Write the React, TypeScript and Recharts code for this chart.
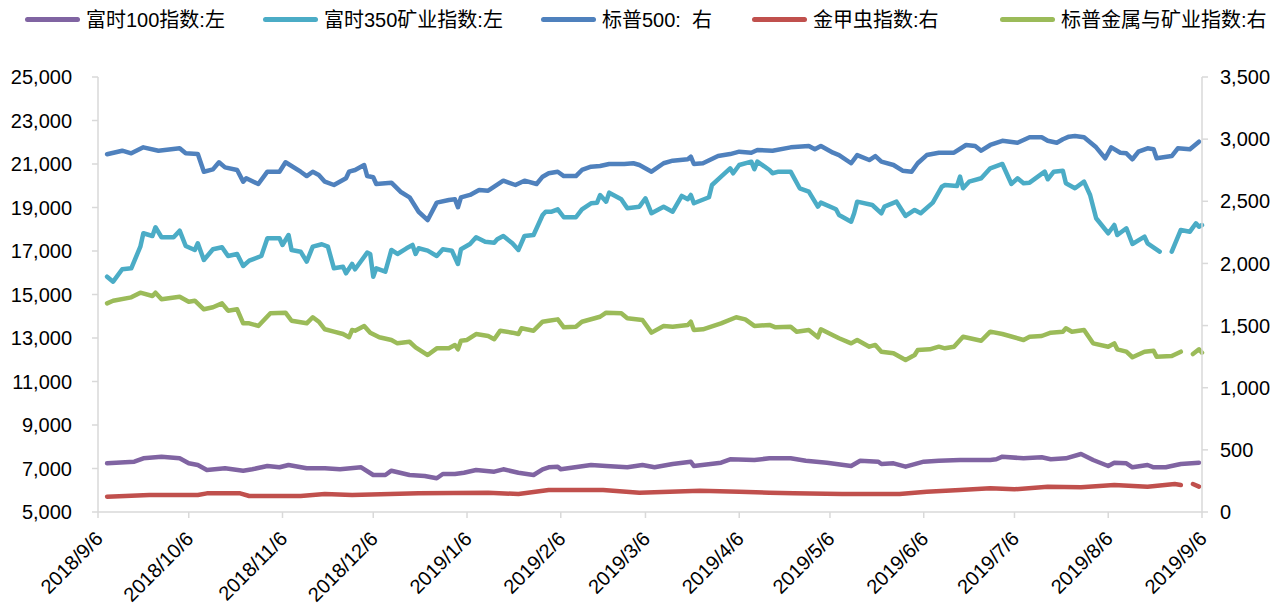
import { Line, LineChart, XAxis, YAxis } from "recharts";

const FONT = '"Liberation Sans", Arial, "Noto Sans CJK SC", sans-serif';
const AXIS_GREY = "#d9d9d9";

// x axis: days since 2018/9/6
const tickDays = [0, 30, 61, 91, 122, 153, 181, 212, 242, 273, 303, 334, 365];
const tickLabels = [
  "2018/9/6", "2018/10/6", "2018/11/6", "2018/12/6", "2019/1/6", "2019/2/6",
  "2019/3/6", "2019/4/6", "2019/5/6", "2019/6/6", "2019/7/6", "2019/8/6", "2019/9/6",
];
const leftTicks = [5000, 7000, 9000, 11000, 13000, 15000, 17000, 19000, 21000, 23000, 25000];
const rightTicks = [0, 500, 1000, 1500, 2000, 2500, 3000, 3500];

// 富时100指数 (left)
const ftse100Days = [3, 12, 15, 21, 27, 30, 33, 36, 42, 48, 51, 56, 60, 63, 69, 75, 80, 87, 91, 95, 97, 103, 108, 112, 114, 118, 121, 125, 131, 134, 139, 144, 147, 149, 152, 153, 163, 168, 175, 180, 184, 190, 196, 197, 206, 209, 217, 222, 229, 234, 241, 249, 252, 258, 259, 263, 267, 273, 278, 285, 295, 297, 299, 306, 312, 315, 320, 325, 329, 334, 336, 340, 342, 347, 349, 353, 358, 364];
const ftse100 = [7239, 7313, 7469, 7543, 7469, 7239, 7161, 6931, 7009, 6899, 6963, 7115, 7055, 7161, 7009, 7009, 6963, 7055, 6701, 6701, 6899, 6701, 6655, 6550, 6747, 6747, 6807, 6931, 6853, 6963, 6807, 6701, 6963, 7055, 7083, 6963, 7161, 7115, 7055, 7161, 7055, 7207, 7313, 7115, 7267, 7423, 7391, 7469, 7469, 7359, 7267, 7115, 7359, 7313, 7207, 7239, 7083, 7313, 7359, 7391, 7391, 7423, 7543, 7469, 7515, 7423, 7469, 7667, 7391, 7115, 7267, 7239, 7055, 7161, 7055, 7055, 7207, 7267];

// 富时350矿业指数 (left)
const ftse350MiningDays = [3, 5, 8, 11, 14, 15, 18, 19, 21, 25, 27, 29, 32, 33, 35, 38, 41, 43, 46, 48, 50, 54, 56, 60, 61, 63, 64, 67, 69, 71, 74, 76, 78, 81, 82, 84, 85, 89, 90, 91, 92, 95, 97, 99, 102, 104, 105, 106, 109, 112, 114, 117, 119, 120, 123, 125, 128, 131, 132, 134, 137, 139, 141, 144, 147, 148, 150, 152, 154, 158, 160, 163, 165, 166, 168, 169, 173, 175, 179, 181, 183, 187, 190, 193, 195, 196, 197, 202, 203, 206, 209, 210, 212, 216, 217, 218, 222, 223, 225, 229, 232, 235, 238, 239, 244, 245, 249, 250, 251, 256, 259, 260, 264, 267, 270, 272, 276, 279, 280, 284, 285, 286, 288, 292, 295, 299, 302, 304, 306, 308, 313, 314, 316, 319, 320, 323, 326, 328, 330, 334, 336, 337, 340, 342, 346, 347, 351, 353, 355, 358, 361, 363, 364, 365];
const ftse350Mining = [15819, 15589, 16159, 16205, 17199, 17815, 17690, 18091, 17631, 17631, 17934, 17231, 17047, 17355, 16587, 17079, 17171, 16771, 16863, 16311, 16555, 16771, 17585, 17585, 17277, 17736, 17047, 16969, 16509, 17199, 17309, 17199, 16205, 16279, 15975, 16403, 16159, 16923, 16863, 15819, 16205, 16049, 17047, 16863, 17125, 17277, 16863, 17125, 17015, 16771, 17079, 17015, 16403, 17079, 17323, 17631, 17428, 17382, 17539, 17690, 17355, 17047, 17690, 17736, 18656, 18808, 18808, 18918, 18551, 18551, 18918, 19194, 19222, 19576, 19268, 19681, 19378, 18964, 19038, 19424, 18734, 19038, 18808, 19530, 19378, 19576, 19194, 19470, 20035, 20417, 20803, 20574, 20955, 21107, 20757, 21107, 20725, 20574, 20647, 20647, 19884, 19727, 19038, 19222, 18918, 18656, 18348, 18734, 19268, 19116, 18734, 19038, 19268, 18610, 18886, 18734, 19222, 19957, 20035, 19989, 20417, 19884, 20187, 20344, 20803, 21001, 20081, 20344, 20114, 20141, 20647, 20297, 20647, 20693, 20114, 19884, 20187, 19576, 18504, 17815, 18196, 17736, 18044, 17323, 17658, 17355, 16969, null, 16969, 17966, 17888, 18275, 18118, 18196];

// 标普500 (right)
const sp500Days = [3, 8, 11, 15, 20, 27, 29, 33, 35, 38, 40, 42, 46, 48, 49, 53, 56, 60, 62, 67, 69, 71, 73, 75, 78, 82, 83, 85, 88, 89, 91, 92, 97, 100, 103, 106, 109, 112, 116, 118, 119, 120, 123, 126, 129, 131, 134, 138, 141, 145, 147, 149, 152, 154, 158, 160, 163, 166, 169, 174, 177, 179, 183, 187, 190, 195, 196, 197, 200, 205, 209, 212, 216, 218, 223, 229, 235, 237, 239, 243, 245, 249, 251, 255, 257, 259, 263, 266, 269, 271, 274, 278, 283, 287, 290, 292, 295, 299, 304, 308, 312, 314, 317, 319, 321, 323, 326, 330, 333, 335, 338, 340, 342, 344, 347, 349, 350, 355, 357, 361, 364];
const sp500 = [2878, 2907, 2886, 2934, 2907, 2926, 2886, 2880, 2738, 2757, 2814, 2773, 2752, 2658, 2685, 2639, 2738, 2738, 2814, 2738, 2703, 2738, 2712, 2658, 2631, 2685, 2738, 2752, 2792, 2703, 2693, 2639, 2650, 2577, 2532, 2416, 2349, 2489, 2510, 2516, 2452, 2532, 2551, 2591, 2585, 2617, 2666, 2631, 2666, 2639, 2698, 2725, 2738, 2703, 2703, 2752, 2778, 2784, 2800, 2800, 2806, 2792, 2738, 2806, 2827, 2838, 2859, 2800, 2806, 2864, 2880, 2899, 2891, 2913, 2907, 2934, 2945, 2918, 2945, 2891, 2872, 2806, 2872, 2832, 2864, 2819, 2792, 2746, 2738, 2806, 2872, 2891, 2891, 2953, 2945, 2907, 2953, 2987, 2971, 3015, 3015, 2987, 2971, 2999, 3020, 3025, 3015, 2934, 2846, 2934, 2891, 2886, 2838, 2899, 2926, 2918, 2846, 2864, 2926, 2918, 2979];

// 金甲虫指数 (right)
const goldBugsDays = [3, 17, 33, 36, 47, 50, 67, 75, 84, 106, 129, 139, 149, 167, 179, 199, 212, 222, 230, 246, 265, 274, 285, 295, 303, 314, 325, 336, 347, 356, 358, 360, 362, 364];
const goldBugs = [123, 137, 137, 150, 150, 129, 129, 145, 137, 150, 155, 145, 177, 177, 155, 171, 163, 155, 150, 145, 145, 163, 177, 191, 183, 204, 199, 217, 204, 225, 217, null, 225, 204];

// 标普金属与矿业指数 (right)
const spMetalsDays = [3, 5, 11, 14, 18, 19, 21, 27, 30, 32, 35, 38, 41, 43, 46, 48, 50, 53, 57, 62, 64, 69, 71, 73, 75, 78, 81, 83, 84, 85, 88, 90, 93, 97, 99, 103, 105, 109, 112, 116, 118, 119, 120, 122, 125, 129, 131, 133, 137, 139, 140, 144, 147, 149, 152, 154, 158, 160, 166, 168, 173, 175, 180, 183, 187, 190, 195, 196, 197, 200, 206, 211, 214, 217, 222, 224, 229, 231, 235, 238, 239, 245, 249, 251, 255, 257, 259, 263, 267, 270, 271, 275, 278, 280, 283, 286, 292, 295, 299, 306, 308, 312, 315, 319, 320, 322, 326, 329, 334, 336, 337, 340, 342, 346, 349, 350, 355, 358, 360, 362, 364, 365];
const spMetals = [1679, 1700, 1727, 1765, 1738, 1765, 1711, 1732, 1692, 1700, 1631, 1647, 1679, 1620, 1631, 1518, 1518, 1497, 1599, 1604, 1539, 1518, 1567, 1531, 1470, 1451, 1432, 1406, 1464, 1459, 1497, 1443, 1406, 1384, 1357, 1370, 1325, 1263, 1317, 1317, 1344, 1309, 1378, 1384, 1432, 1416, 1390, 1459, 1443, 1432, 1478, 1459, 1531, 1539, 1550, 1486, 1491, 1531, 1571, 1604, 1599, 1559, 1545, 1443, 1497, 1491, 1505, 1531, 1464, 1470, 1518, 1567, 1550, 1497, 1505, 1486, 1491, 1451, 1464, 1406, 1470, 1398, 1357, 1384, 1330, 1344, 1290, 1277, 1223, 1263, 1303, 1309, 1330, 1317, 1330, 1410, 1378, 1451, 1432, 1384, 1410, 1416, 1443, 1451, 1478, 1451, 1464, 1357, 1330, 1357, 1309, 1290, 1245, 1290, 1298, 1250, 1255, 1290, null, 1271, 1309, 1282];

const toPoints = (days: number[], values: (number | null)[]) =>
  days.map((day, i) => ({ day, value: values[i] }));

const series = [
  { name: "富时100指数:左", color: "#8064A2", axis: "left", data: toPoints(ftse100Days, ftse100), legendX: 25 },
  { name: "富时350矿业指数:左", color: "#4BACC6", axis: "left", data: toPoints(ftse350MiningDays, ftse350Mining), legendX: 263 },
  { name: "标普500:  右", color: "#4F81BD", axis: "right", data: toPoints(sp500Days, sp500), legendX: 541 },
  { name: "金甲虫指数:右", color: "#C0504D", axis: "right", data: toPoints(goldBugsDays, goldBugs), legendX: 752 },
  { name: "标普金属与矿业指数:右", color: "#9BBB59", axis: "right", data: toPoints(spMetalsDays, spMetals), legendX: 1000 },
];

function DateTick({ x, y, payload }: any) {
  const label = tickLabels[tickDays.indexOf(payload.value)] ?? "";
  const px = x + 6;
  const py = y + 20;
  return (
    <text
      x={px}
      y={py}
      textAnchor="end"
      fontSize={20}
      fontFamily={FONT}
      fill="#000"
      transform={`rotate(-45, ${px}, ${py})`}
    >
      {label}
    </text>
  );
}

export default function App() {
  const fmt = (v: number) => v.toLocaleString("en-US");
  return (
    <div
      style={{
        position: "absolute",
        left: 0,
        top: 0,
        width: 1287,
        height: 605,
        background: "#fff",
        fontFamily: FONT,
      }}
    >
      {series.map((s) => (
        <div key={s.name}>
          <div
            style={{
              position: "absolute",
              left: s.legendX,
              top: 17,
              width: 55,
              height: 5,
              borderRadius: 3,
              background: s.color,
            }}
          />
          <div
            style={{
              position: "absolute",
              left: s.legendX + 61,
              top: 6,
              fontSize: 20,
              lineHeight: "28px",
              color: "#000",
              whiteSpace: "pre",
            }}
          >
            {s.name}
          </div>
        </div>
      ))}
      <LineChart
        width={1287}
        height={605}
        margin={{ top: 77, right: 0, bottom: 0, left: 0 }}
        style={{ position: "absolute", left: 0, top: 0 }}
      >
        <XAxis
          dataKey="day"
          type="number"
          domain={[0, 365]}
          ticks={tickDays}
          interval={0}
          height={93}
          tickSize={6}
          tick={<DateTick />}
          axisLine={{ stroke: AXIS_GREY, strokeWidth: 1.5 }}
          tickLine={{ stroke: AXIS_GREY, strokeWidth: 1.5 }}
          allowDuplicatedCategory={false}
        />
        <YAxis
          yAxisId="left"
          orientation="left"
          width={98}
          domain={[5000, 25000]}
          ticks={leftTicks}
          interval={0}
          tickFormatter={fmt}
          tickSize={6}
          tickMargin={20}
          tick={{ fontSize: 20, fill: "#000", fontFamily: FONT }}
          axisLine={{ stroke: AXIS_GREY, strokeWidth: 1.5 }}
          tickLine={{ stroke: AXIS_GREY, strokeWidth: 1.5 }}
        />
        <YAxis
          yAxisId="right"
          orientation="right"
          width={85}
          domain={[0, 3500]}
          ticks={rightTicks}
          interval={0}
          tickFormatter={fmt}
          tickSize={6}
          tickMargin={12}
          tick={{ fontSize: 20, fill: "#000", fontFamily: FONT }}
          axisLine={{ stroke: AXIS_GREY, strokeWidth: 1.5 }}
          tickLine={{ stroke: AXIS_GREY, strokeWidth: 1.5 }}
        />
        {series.map((s) => (
          <Line
            key={s.name}
            data={s.data}
            dataKey="value"
            name={s.name}
            yAxisId={s.axis}
            type="linear"
            stroke={s.color}
            strokeWidth={4.5}
            strokeLinejoin="round"
            strokeLinecap="round"
            dot={false}
            activeDot={false}
            connectNulls={false}
            isAnimationActive={false}
          />
        ))}
      </LineChart>
    </div>
  );
}
